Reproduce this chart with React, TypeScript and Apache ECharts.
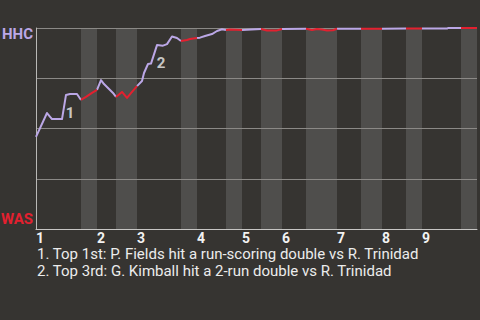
import { useEffect, useRef } from "react";
import * as echarts from "echarts";

// Game timeline (x) and HHC win probability (y)
const wpTime = [0, 11, 16, 26, 30, 34, 41, 45, 50, 53, 56, 61, 65, 68, 77, 80, 86, 91, 96, 101, 106, 108, 112, 115, 121, 127, 131, 136, 141, 145, 151, 154, 161, 164, 169, 176, 181, 186, 190, 194, 206, 225, 231, 241, 246, 270, 276, 281, 286, 291, 297, 301, 325, 346, 370, 386, 411, 412, 425, 441];
const wpHHC = [0.458, 0.577, 0.547, 0.547, 0.667, 0.672, 0.672, 0.642, 0.657, 0.667, 0.677, 0.692, 0.741, 0.721, 0.677, 0.657, 0.682, 0.652, 0.682, 0.711, 0.736, 0.776, 0.821, 0.823, 0.915, 0.912, 0.92, 0.958, 0.95, 0.935, 0.94, 0.945, 0.95, 0.952, 0.96, 0.97, 0.985, 0.994, 0.99, 0.993, 0.99, 0.995, 0.988, 0.988, 0.995, 0.996, 0.99, 0.995, 0.993, 0.988, 0.989, 0.996, 0.996, 0.996, 0.997, 0.997, 0.997, 1.0, 1.0, 1.0];

// Bottom halves of innings (WAS batting)
const bottomStart = [45, 80, 145, 190, 225, 270, 325, 370, 425];
const bottomEnd = [61, 101, 161, 206, 246, 301, 346, 386, 441];

const inningStarts = [0, 61, 101, 161, 206, 246, 301, 346, 386];
const inningLabels = ["1", "2", "3", "4", "5", "6", "7", "8", "9"];
const gameEnd = 441;

const noteTimes = [30, 121];
const noteMarks = ["1", "2"];
const noteTexts = [
  "1. Top 1st: P. Fields hit a run-scoring double vs R. Trinidad",
  "2. Top 3rd: G. Kimball hit a 2-run double vs R. Trinidad",
];

const awayTeam = "HHC";
const homeTeam = "WAS";

const PURPLE = "#bba7e6";
const RED = "#e3202f";
const BG = "#363431";
const BAND = "#4f4e4c";

function buildSegments(red: boolean) {
  const out: any[] = [];
  let prevWas = false;
  for (let i = 0; i < wpTime.length - 1; i++) {
    const mid = (wpTime[i] + wpTime[i + 1]) / 2;
    const isBottom = bottomStart.some((s, k) => mid > s && mid < bottomEnd[k]);
    if (isBottom === red) {
      if (!prevWas) {
        if (out.length) out.push([wpTime[i], null]);
        out.push([wpTime[i], wpHHC[i]]);
      }
      out.push([wpTime[i + 1], wpHHC[i + 1]]);
      prevWas = true;
    } else {
      prevWas = false;
    }
  }
  return out;
}

export default function App() {
  const ref = useRef<HTMLDivElement>(null);
  useEffect(() => {
    if (!ref.current) return;
    const chart = echarts.init(ref.current, null, { renderer: "svg" });
    const noteData = noteTimes.map((t) => [t, wpHHC[wpTime.indexOf(t)]]);
    chart.setOption({
      animation: false,
      backgroundColor: BG,
      textStyle: { fontFamily: "Roboto" },
      title: {
        text: noteTexts.join("\n"),
        left: 37,
        top: 245,
        padding: 0,
        textStyle: {
          color: "#ececec",
          fontSize: 15,
          fontWeight: "normal",
          fontFamily: "Roboto",
          lineHeight: 17,
        },
      },
      grid: { left: 36, right: 3, top: 28, bottom: 91, outerBoundsMode: "none" },
      xAxis: {
        type: "value",
        min: 0,
        max: gameEnd,
        splitLine: { show: false },
        axisTick: { show: false },
        axisLine: { show: true, lineStyle: { color: "#c6c5c3", width: 1 } },
        axisLabel: {
          customValues: inningStarts,
          formatter: (v: number) => inningLabels[inningStarts.indexOf(v)] ?? "",
          align: "left",
          margin: 2,
          color: "#f2f2f2",
          fontSize: 14,
          fontWeight: "bold",
          fontFamily: "Roboto",
          lineHeight: 14,
        },
      },
      yAxis: {
        type: "value",
        min: 0,
        max: 1,
        interval: 0.25,
        axisTick: { show: false },
        axisLine: { show: true, lineStyle: { color: "#b9b8b6", width: 1 } },
        splitLine: { show: true, lineStyle: { color: "#8b8986", width: 1 } },
        axisLabel: {
          customValues: [0, 1],
          margin: 3,
          formatter: (v: number) => (v === 1 ? `{a|${awayTeam}}` : `{b|${homeTeam}}`),
          rich: {
            a: { color: PURPLE, fontSize: 15, fontWeight: "bold", fontFamily: "Roboto", padding: [11, 0, 0, 0] },
            b: { color: RED, fontSize: 15, fontWeight: "bold", fontFamily: "Roboto", padding: [0, 0, 20, 0] },
          },
        },
      },
      series: [
        {
          type: "line",
          z: -2,
          data: [],
          silent: true,
          markArea: {
            silent: true,
            z: -2,
            itemStyle: { color: BAND },
            data: bottomStart.map((s, k) => [{ xAxis: s }, { xAxis: bottomEnd[k] }]),
          },
        },
        {
          type: "line",
          data: buildSegments(false),
          showSymbol: false,
          connectNulls: false,
          lineStyle: { color: PURPLE, width: 2, join: "round" },
          itemStyle: { color: PURPLE },
          z: 3,
        },
        {
          type: "line",
          data: buildSegments(true),
          showSymbol: false,
          connectNulls: false,
          lineStyle: { color: RED, width: 2, join: "round" },
          itemStyle: { color: RED },
          z: 3,
        },
        {
          type: "scatter",
          data: noteData,
          symbolSize: 1,
          itemStyle: { color: "rgba(0,0,0,0)" },
          z: 4,
          label: {
            show: true,
            position: "inside",
            offset: [4, 18],
            formatter: (p: any) => noteMarks[p.dataIndex],
            color: "#efefef",
            fontSize: 15,
            fontWeight: "bold",
            fontFamily: "Roboto",
          },
        },
      ],
    });
    return () => chart.dispose();
  }, []);
  return (
    <div
      ref={ref}
      style={{ position: "fixed", left: 0, top: 0, width: 480, height: 320 }}
    />
  );
}
